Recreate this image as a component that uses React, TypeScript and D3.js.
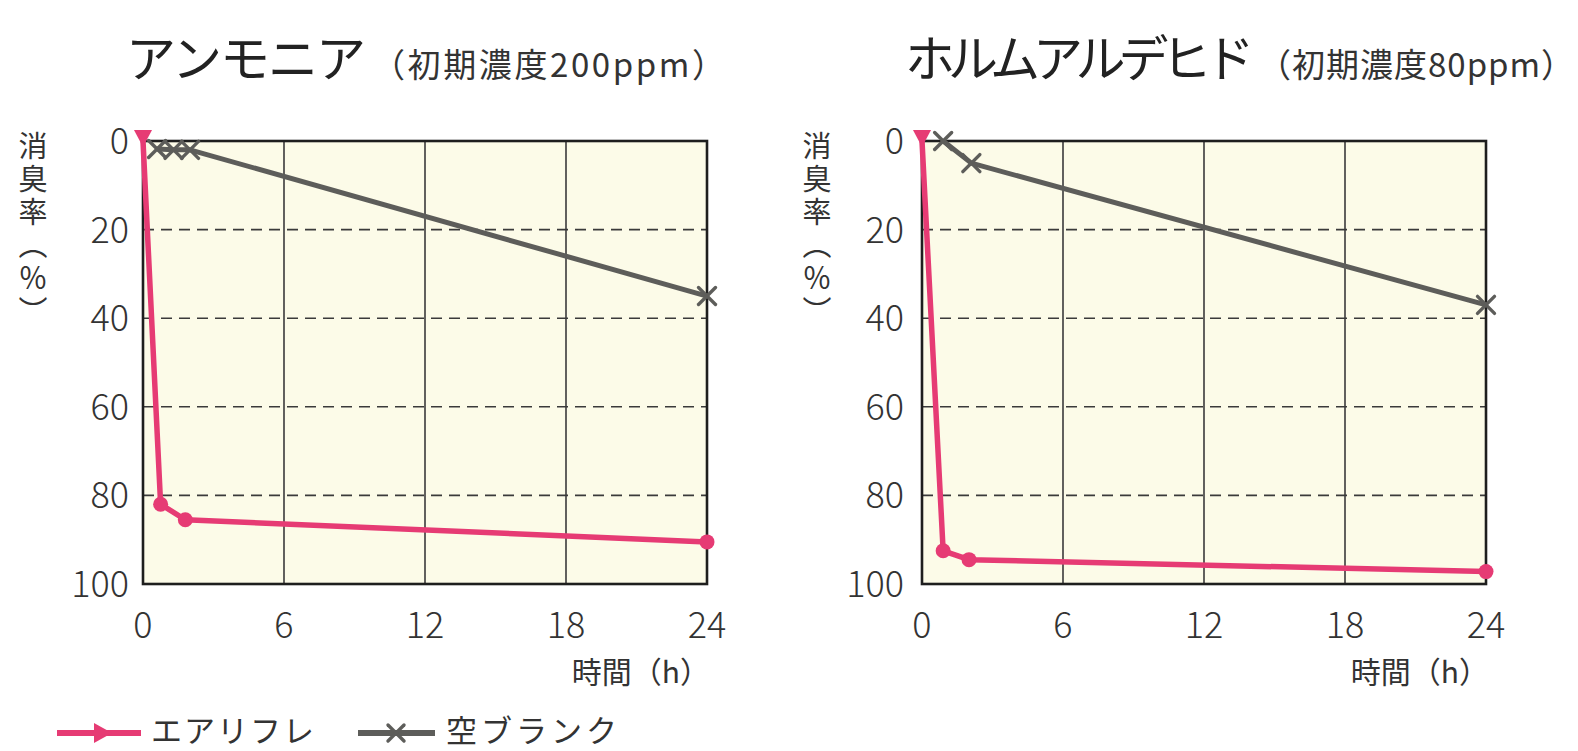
import React from "react";
import * as d3 from "d3";

// ---- data ----
const timeTicks = [0, 6, 12, 18, 24];
const rateTicks = [0, 20, 40, 60, 80, 100];
const gridRates = [20, 40, 60, 80];
const gridTimes = [6, 12, 18];

const ammoniaAirHours = [0, 0.75, 1.8, 24];
const ammoniaAirRates = [0, 82, 85.5, 90.5];
const ammoniaBlankHours = [0.6, 1.3, 2, 24];
const ammoniaBlankRates = [1.8, 2, 2, 35];

const formAirHours = [0, 0.9, 2, 24];
const formAirRates = [0, 92.5, 94.5, 97.2];
const formBlankHours = [0.9, 2.1, 24];
const formBlankRates = [0, 5, 37];

const titles = ["アンモニア", "ホルムアルデヒド"];
const subtitles = ["（初期濃度200ppm）", "（初期濃度80ppm）"];
const yLabel = "消臭率（％）";
const xLabel = "時間（h）";
const legendNames = ["エアリフレ", "空ブランク"];

const PINK = "#e63b74";
const GRAY = "#5d5d5a";
const TEXT = "#333";
const FONT = "'Noto Sans CJK JP', 'Noto Sans', sans-serif";

type Pt = { h: number; r: number };
const zip = (hs: number[], rs: number[]): Pt[] => hs.map((h, i) => ({ h, r: rs[i] }));

function XMark({ x, y, s = 8.5, color = GRAY, w = 3.4 }: any) {
  return (
    <g stroke={color} strokeWidth={w} strokeLinecap="round">
      <line x1={x - s} y1={y - s} x2={x + s} y2={y + s} />
      <line x1={x - s} y1={y + s} x2={x + s} y2={y - s} />
    </g>
  );
}

function Panel({ left, title, subtitle, titleSpacing, subSpacing, subX, air, blank, yLabelX, tickRight }: any) {
  const top = 141;
  const bottom = 584;
  const width = 564;
  const x = d3.scaleLinear().domain([0, 24]).range([left, left + width]);
  const y = d3.scaleLinear().domain([0, 100]).range([top, bottom]);
  const line = d3.line<Pt>().x((d) => x(d.h)).y((d) => y(d.r));
  return (
    <g fontFamily={FONT}>
      <text x={left - 17} y={77} fontSize={50} fill="#222" letterSpacing={titleSpacing}>
        {title}
      </text>
      <text x={subX} y={77} fontSize={33} fill={TEXT} letterSpacing={subSpacing}>
        {subtitle}
      </text>
      <rect x={left} y={top} width={width} height={bottom - top} fill="#fcfbe8" />
      {gridTimes.map((t) => (
        <line key={"v" + t} x1={x(t)} x2={x(t)} y1={top} y2={bottom} stroke="#3a3a3a" strokeWidth={1.6} />
      ))}
      {gridRates.map((r) => (
        <line key={"h" + r} x1={left} x2={left + width} y1={y(r)} y2={y(r)} stroke="#3a3a3a" strokeWidth={1.6} strokeDasharray="11,7" />
      ))}
      <rect x={left} y={top} width={width} height={bottom - top} fill="none" stroke="#1e1e1e" strokeWidth={2.6} />
      {rateTicks.map((r) => (
        <text key={"yt" + r} x={tickRight} y={y(r)} dy="0.36em" fontSize={36} fontWeight={300} fill={TEXT} textAnchor="end">
          {r}
        </text>
      ))}
      {timeTicks.map((t) => (
        <text key={"xt" + t} x={x(t)} y={638} fontSize={36} fontWeight={300} fill={TEXT} textAnchor="middle">
          {t}
        </text>
      ))}
      <text x={left + width + 3} y={683} fontSize={30} fill={TEXT} textAnchor="end">
        {xLabel}
      </text>
      <text x={yLabelX} y={131} fontSize={29} fill={TEXT} letterSpacing={4}
        style={{ writingMode: "vertical-rl" } as any}>
        {yLabel}
      </text>
      <path d={line(blank) || ""} fill="none" stroke={GRAY} strokeWidth={5} strokeLinejoin="round" />
      {blank.map((d: Pt, i: number) => (
        <XMark key={"bx" + i} x={x(d.h)} y={y(d.r)} />
      ))}
      <path d={line(air) || ""} fill="none" stroke={PINK} strokeWidth={5.5} strokeLinejoin="round" />
      {air.map((d: Pt, i: number) =>
        i === 0 ? (
          <path key={"am" + i} d={`M${x(d.h) - 9},${y(d.r) - 11} L${x(d.h) + 9},${y(d.r) - 11} L${x(d.h)},${y(d.r) + 6} Z`} fill={PINK} />
        ) : (
          <circle key={"am" + i} cx={x(d.h)} cy={y(d.r)} r={7.5} fill={PINK} />
        )
      )}
    </g>
  );
}

export default function App() {
  const ammAir = zip(ammoniaAirHours, ammoniaAirRates);
  const ammBlank = zip(ammoniaBlankHours, ammoniaBlankRates);
  const fAir = zip(formAirHours, formAirRates);
  const fBlank = zip(formBlankHours, formBlankRates);
  return (
    <svg width={1578} height={751} style={{ position: "absolute", left: 0, top: 0, background: "#fff" }}>
      <rect width={1578} height={751} fill="#fff" />
      <Panel left={143} title={titles[0]} subtitle={subtitles[0]} titleSpacing={-2} subX={372} subSpacing={2.6}
        air={ammAir} blank={ammBlank} yLabelX={33} tickRight={129} />
      <Panel left={922} title={titles[1]} subtitle={subtitles[1]} titleSpacing={-7} subX={1258} subSpacing={1}
        air={fAir} blank={fBlank} yLabelX={817} tickRight={904} />
      <g fontFamily={FONT}>
        <line x1={57} x2={141} y1={733} y2={733} stroke={PINK} strokeWidth={6} />
        <path d="M94,723 L112,733 L94,743 Z" fill={PINK} />
        <text x={151} y={741.5} fontSize={31} fill={TEXT} letterSpacing={2}>{legendNames[0]}</text>
        <line x1={358} x2={435} y1={733} y2={733} stroke={GRAY} strokeWidth={6} />
        <XMark x={396} y={733} s={8} />
        <text x={446} y={741.5} fontSize={31} fill={TEXT} letterSpacing={4}>{legendNames[1]}</text>
      </g>
    </svg>
  );
}
